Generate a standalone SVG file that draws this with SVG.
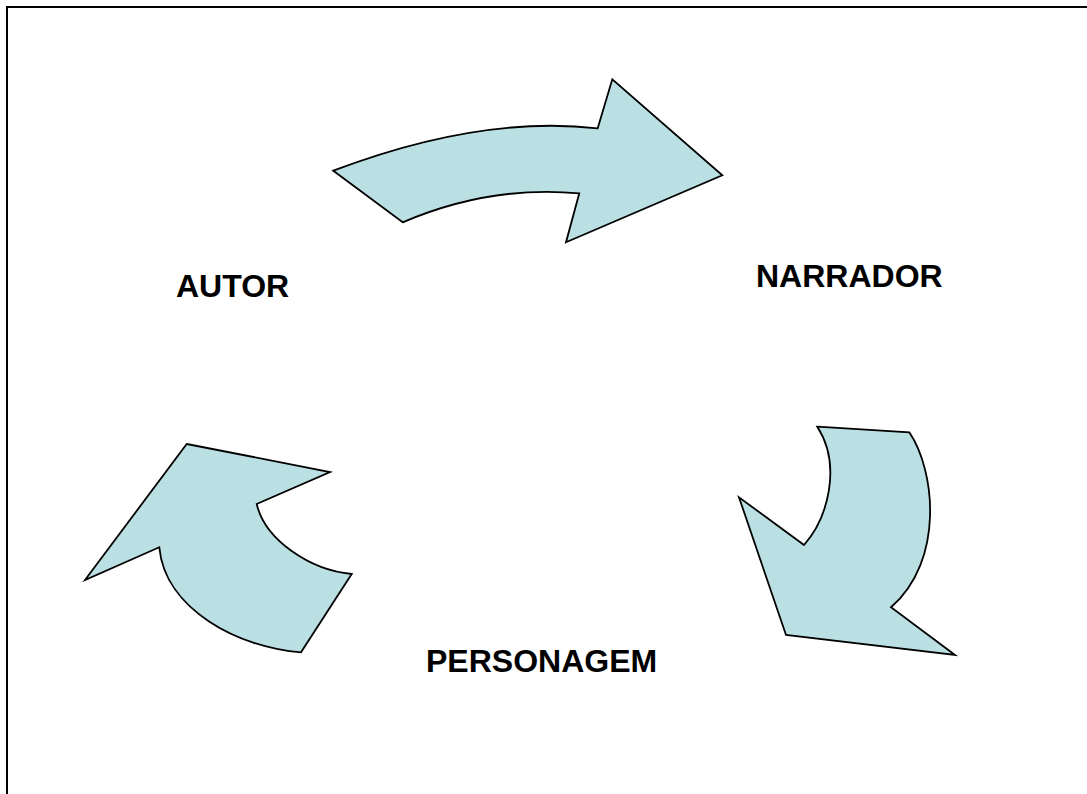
<svg xmlns="http://www.w3.org/2000/svg" width="1087" height="794" viewBox="0 0 1087 794">
  <style>
    .arrow { fill: #bbe0e3; stroke: #000; stroke-width: 1.8; stroke-linejoin: miter; }
    .label { font-family: "Liberation Sans", Arial, sans-serif; font-weight: bold; font-size: 32px; fill: #000; }
    .frame { fill: none; stroke: #000; stroke-width: 2; }
  </style>
  <rect width="1087" height="794" fill="#fff"/>
  <!-- page frame (top and left edges) -->
  <path class="frame" d="M7,794 V7 H1087"/>

  <g id="connectors">
    <!-- curved arrow: AUTOR to NARRADOR -->
    <path id="arrow-top" class="arrow" d="M333.3,170.7 L402.7,222.3 Q490,185 579.3,193.3 L566,242.3 L722.3,175.3 L612.3,79.3 L597.7,128.3 Q480,115 333.3,170.7 Z"/>
    <!-- curved arrow: NARRADOR to PERSONAGEM -->
    <path id="arrow-right" class="arrow" d="M817.3,426.7 L909.3,432.3 C935,470 945,560 891,607.3 L955,655 L786,635 L739,497.3 L804,545 C828,518 842,465 817.3,426.7 Z"/>
    <!-- curved arrow: PERSONAGEM to AUTOR -->
    <path id="arrow-left" class="arrow" d="M186.7,444 L330,472 L256.7,504 C265,540 310,570 351.7,574 L301,652.3 C240,648 165,610 159.3,547.3 L85,580 Z"/>
  </g>

  <g id="autor">
    <text class="label" x="176" y="297">AUTOR</text>
  </g>
  <g id="narrador">
    <text class="label" x="756" y="287">NARRADOR</text>
  </g>
  <g id="personagem">
    <text class="label" x="426" y="672">PERSONAGEM</text>
  </g>
</svg>
